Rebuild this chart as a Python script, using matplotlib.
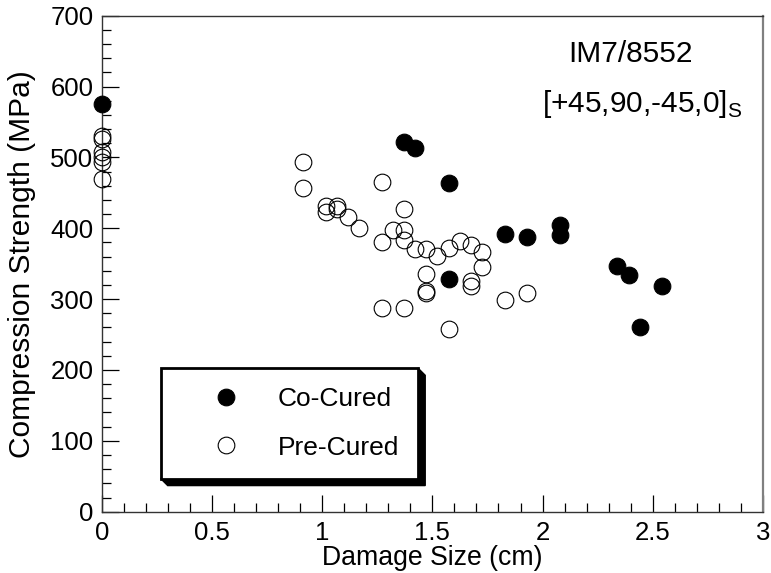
import numpy as np
import matplotlib
matplotlib.use('Agg')
import matplotlib.pyplot as plt
from matplotlib.ticker import MultipleLocator
from matplotlib.patches import Polygon
from matplotlib.transforms import IdentityTransform

plt.rcParams['font.family'] = ['Liberation Sans', 'DejaVu Sans']
plt.rcParams['mathtext.fontset'] = 'custom'
plt.rcParams['mathtext.rm'] = 'Liberation Sans'

# damage size (cm) and compression strength (MPa)
co_cured_size = [0.0, 1.37, 1.42, 1.575, 1.575, 1.83, 1.93, 2.08, 2.08, 2.34, 2.39, 2.44, 2.54]
co_cured_strength = [575, 522, 513, 464, 328, 392, 387, 404, 390, 347, 334, 260, 319]

pre_cured_size = [0.0, 0.0, 0.0, 0.0, 0.0, 0.0,
                  0.914, 0.914, 1.016, 1.016, 1.067, 1.067, 1.118, 1.168,
                  1.27, 1.27, 1.27, 1.32, 1.37, 1.37, 1.37, 1.37,
                  1.42, 1.47, 1.47, 1.47, 1.47, 1.52, 1.575, 1.575,
                  1.626, 1.676, 1.676, 1.676, 1.727, 1.727, 1.83, 1.93]
pre_cured_strength = [530, 526, 507, 500, 493, 470,
                      494, 457, 432, 423, 431, 427, 416, 400,
                      466, 380, 288, 398, 427, 398, 384, 288,
                      371, 371, 335, 312, 309, 361, 372, 258,
                      382, 376, 325, 318, 366, 345, 299, 308]

FS = 18.5

fig = plt.figure(figsize=(7.71, 5.73), dpi=100)
ax = fig.add_axes([0.1319, 0.107, 0.8577, 0.8656])

ax.plot(co_cured_size, co_cured_strength, 'o', ms=12, mfc='black', mec='black',
        mew=0.8, clip_on=False, label='Co-Cured', zorder=3)
ax.plot(pre_cured_size, pre_cured_strength, 'o', ms=12, mfc='none', mec='black',
        mew=0.8, clip_on=False, label='Pre-Cured', zorder=3)

ax.set_xlim(0, 3)
ax.set_ylim(0, 700)
ax.xaxis.set_major_locator(MultipleLocator(0.5))
ax.xaxis.set_minor_locator(MultipleLocator(0.1))
ax.yaxis.set_major_locator(MultipleLocator(100))
ax.yaxis.set_minor_locator(MultipleLocator(20))
ax.set_xticks(np.arange(0, 3.01, 0.5))
ax.set_xticklabels(['0', '0.5', '1', '1.5', '2', '2.5', '3'])

ax.tick_params(which='both', direction='in', top=False, right=False,
               labelsize=FS, colors='black', width=0.9)
ax.tick_params(which='major', length=12.5)
ax.tick_params(which='minor', length=6.5)
ax.tick_params(axis='y', pad=6)
ax.tick_params(axis='x', pad=7)

for side in ['left', 'bottom', 'top']:
    ax.spines[side].set_color('#333333')
    ax.spines[side].set_linewidth(1.0)
ax.spines['right'].set_color('#808080')
ax.spines['right'].set_linewidth(1.6)

ax.set_xlabel('Damage Size (cm)', fontsize=19.2, labelpad=0)
ax.set_ylabel('Compression Strength (MPa)', fontsize=21.5, labelpad=10)

ax.text(0.80, 0.922, 'IM7/8552', transform=ax.transAxes, fontsize=21.5,
        ha='center', va='center')
ax.text(0.817, 0.822, r'[+45,90,-45,0]$_{\mathregular{S}}$', transform=ax.transAxes,
        fontsize=21.5, ha='center', va='center')

leg = ax.legend(loc='upper left', bbox_to_anchor=(0.0892, 0.2891), borderaxespad=0,
                fontsize=19, frameon=True, fancybox=False, edgecolor='black',
                framealpha=1, borderpad=0.72, handlelength=3.5, handletextpad=0.22,
                labelspacing=0.92, numpoints=1)
leg.get_frame().set_linewidth(2.0)
leg.set_zorder(6)

# black bevelled drop shadow behind the legend box
fig.canvas.draw()
bb = leg.get_frame().get_window_extent()
d = 7
shadow = Polygon([(bb.x1, bb.y1), (bb.x1 + d, bb.y1 - d), (bb.x1 + d, bb.y0 - d),
                  (bb.x0 + d, bb.y0 - d), (bb.x0, bb.y0)],
                 closed=True, facecolor='black', edgecolor='black',
                 transform=IdentityTransform(), zorder=5, clip_on=False)
ax.add_artist(shadow)

fig.savefig('out.png', dpi=100)
